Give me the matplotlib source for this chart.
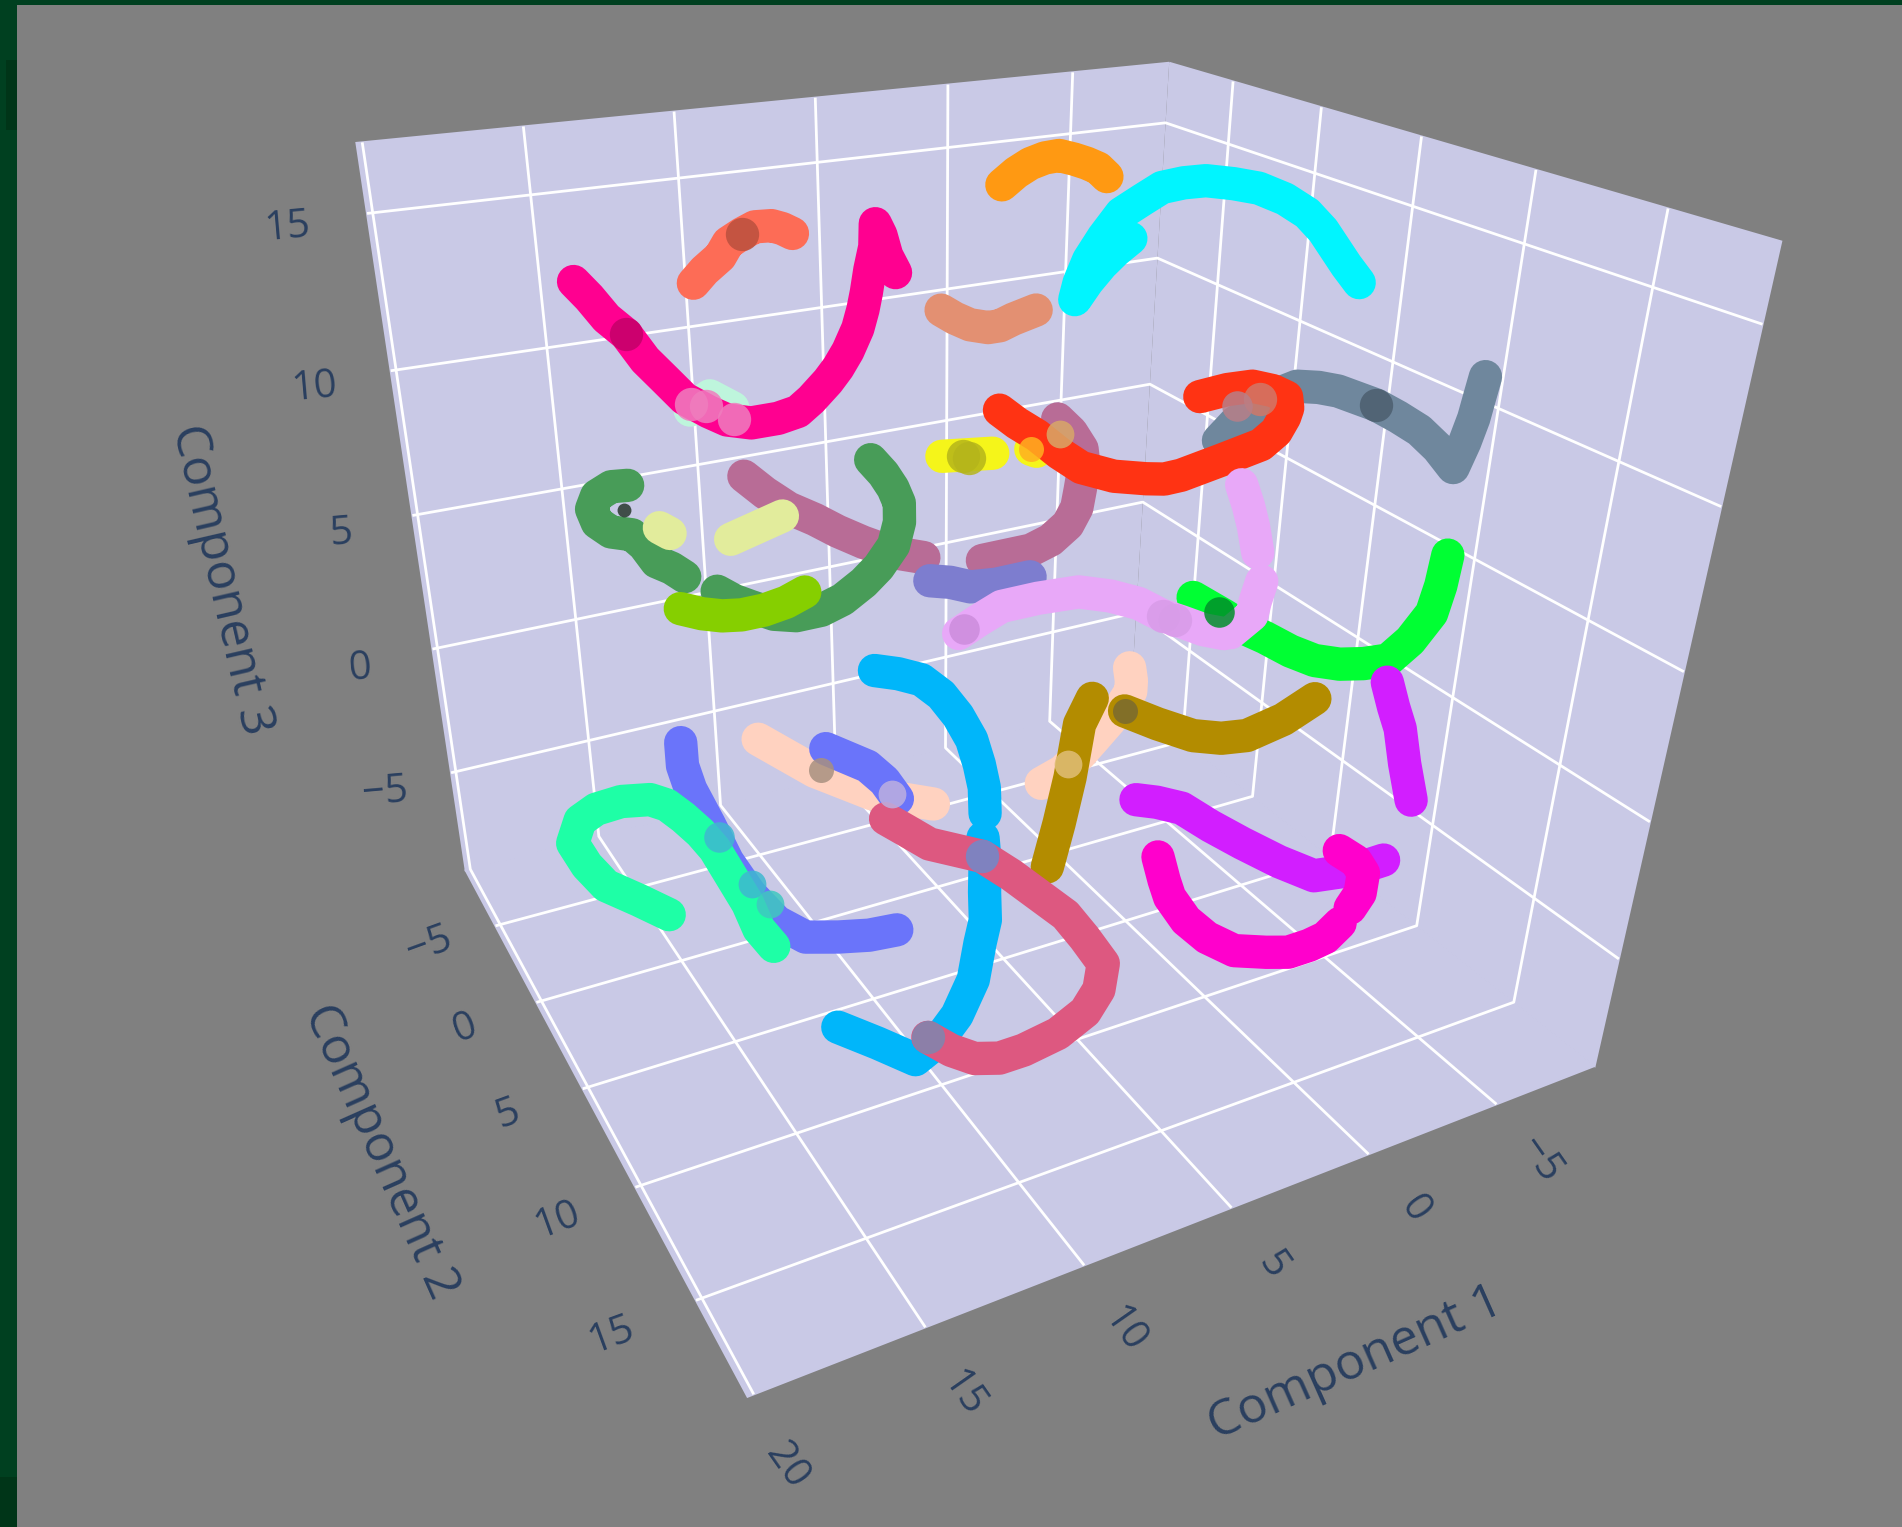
import numpy as np
import matplotlib
matplotlib.use('Agg')
import matplotlib.pyplot as plt
from matplotlib.patches import Rectangle
from mpl_toolkits.mplot3d import proj3d

# ---------- data: (Component 1, Component 2, Component 3) ----------
TOMATO = [(13.1,0.4,14.3),(12.6,-0.0,14.5),(11.9,-0.5,14.7),(11.4,-1.1,14.9),(10.8,-1.5,15.0),(10.3,-1.7,15.1),(9.8,-1.6,15.1),(9.5,-1.5,15.0),(9.3,-1.2,14.9)]
DEEP_PINK = [(16.4,-0.3,14.6),(16.2,0.4,14.3),(16.0,1.2,13.9),(15.7,1.9,13.6),(15.5,2.8,13.1),(15.2,3.5,12.7),(14.9,4.1,12.3),(14.4,4.6,12.0),(14.0,4.9,11.8),
             (13.3,4.9,11.6),(12.5,4.9,11.6),(11.9,4.9,11.7),(11.4,4.7,11.9),(10.7,4.3,12.2),(10.2,3.9,12.4),(9.7,3.5,12.7),(9.1,2.9,13.1),(8.6,2.2,13.4),
             (8.2,1.6,13.7),(7.7,0.8,14.1),(7.1,-0.1,14.5),(6.6,-1.1,14.9),(6.7,-0.5,14.7),(6.9,0.3,14.3),(7.0,1.1,14.0)]
MINT = [(14.9,4.5,12.1),(14.2,4.2,12.3),(13.7,4.6,12.0)]
ORANGE = [(1.6,-2.2,15.3),(0.8,-2.7,15.5),(0.0,-3.2,15.6),(-0.6,-3.3,15.7),(-1.2,-3.4,15.7),(-1.6,-3.1,15.6),(-1.9,-2.8,15.5),(-2.1,-2.4,15.4),(-2.2,-2.0,15.2)]
CYAN_A = [(1.9,3.0,13.0),(1.4,2.4,13.3),(0.6,1.6,13.7),(-0.4,0.8,14.1),(-1.6,-0.1,14.5),(-2.7,-0.6,14.7),(-3.7,-1.0,14.9),(-4.2,-0.5,15.1),(-4.5,0.3,15.3),
          (-4.8,1.4,15.4),(-4.9,2.6,15.5),(-4.8,4.1,15.5),(-4.6,5.5,15.4),(-4.3,6.7,15.2),(-3.9,7.8,15.0),(-3.5,8.9,14.8),(-3.2,9.9,14.6)]
CYAN_B = [(1.8,2.9,13.0),(1.1,2.4,13.3),(0.3,1.9,13.6),(-0.5,1.4,13.8),(-1.3,1.0,14.0)]
SALMON = [(6.3,2.7,13.2),(6.0,3.0,13.0),(5.6,3.2,12.8),(5.1,3.4,12.7),(4.7,3.4,12.7),(4.2,3.3,12.8),(3.3,3.1,12.9)]
SLATE = [(-0.7,7.3,9.5),(-0.9,7.8,10.2),(-1.2,8.3,10.7),(-1.4,8.9,11.3),(-1.7,9.5,11.7),(-2.0,10.1,11.8),(-2.3,10.6,11.8),(-2.6,11.1,11.7),(-2.9,11.6,11.6),
         (-3.2,12.2,11.4),(-3.6,12.7,11.1),(-3.9,13.2,10.7),(-4.2,13.6,10.2),(-4.3,13.8,11.0),(-4.4,13.9,11.7),(-4.5,13.9,12.3),(-4.5,14.0,12.9)]
YELLOW_A = [(7.4,4.9,9.6),(5.7,4.9,9.4)]
YELLOW_B = [(4.4,4.9,9.3),(4.2,4.9,9.2)]
MAUVE_A = [(13.6,4.9,10.1),(13.0,4.9,9.5),(12.3,4.9,8.9),(11.5,4.9,8.4),(10.8,4.9,7.9),(10.0,4.9,7.4),(9.1,4.9,6.9),(8.0,4.9,6.5)]
MAUVE_B = [(6.0,4.9,6.0),(5.2,4.9,6.0),(4.3,4.9,6.0),(3.6,4.9,6.2),(3.0,4.9,6.6),(2.7,4.9,7.1),(2.6,4.9,7.7),(2.5,4.9,8.4),(2.6,4.9,9.0),(3.0,4.9,9.6),(3.5,4.9,10.1)]
RED = [(5.5,4.9,10.7),(4.9,4.9,10.2),(4.2,4.9,9.7),(3.4,4.9,9.0),(2.6,4.9,8.4),(1.4,4.9,7.9),(0.2,4.9,7.6),(-0.0,5.6,7.8),(-0.2,6.2,8.1),
       (-0.8,7.4,8.9),(-1.3,8.6,9.7),(-1.5,9.0,10.2),(-1.6,9.2,10.7),(-1.6,9.3,11.0),(-1.6,9.2,11.3),(-1.4,8.8,11.4),(-1.1,8.2,11.4),(-0.8,7.4,11.1),(-0.4,6.6,10.7)]
SEA_A = [(9.7,4.9,9.9),(9.3,4.9,9.4),(9.0,4.9,8.9),(8.8,4.9,8.4),(8.8,4.9,7.8),(9.0,4.9,7.1),(9.5,4.9,6.5),(10.0,4.9,6.1),(10.7,4.9,5.7),
         (11.4,4.9,5.5),(12.2,4.9,5.5),(12.9,4.9,5.7),(13.6,4.9,6.1),(14.1,4.9,6.4),(14.6,4.9,6.8)]
SEA_B = [(16.4,3.1,9.7),(16.7,2.5,9.5),(17.0,2.0,9.1),(17.1,1.7,8.6),(17.0,1.8,8.2),(16.8,2.4,8.1),(16.4,3.1,8.2),(16.2,3.5,8.0),(16.0,3.9,7.6),(15.7,4.3,7.5),(15.5,4.8,7.4)]
PALE_A = [(15.9,4.1,8.7),(15.7,4.4,8.6)]
PALE_B = [(14.1,4.9,8.3),(12.5,4.9,8.7)]
LIME = [(15.6,4.5,6.3),(15.1,4.9,6.2),(14.5,4.9,6.0),(13.9,4.9,5.9),(13.2,4.9,5.9),(12.5,4.9,6.0),(11.9,4.9,6.2)]
PERIWINKLE = [(7.8,4.9,5.7),(7.1,4.9,5.5),(6.4,4.9,5.2),(5.5,4.9,5.1),(4.3,4.9,5.1)]
GREEN = [(-0.5,6.9,4.2),(-1.0,7.9,3.9),(-1.3,8.7,3.7),(-1.6,9.3,3.6),(-2.0,10.1,3.4),(-2.4,10.8,3.3),(-2.8,11.5,3.4),(-3.2,12.1,3.6),(-3.6,12.7,3.9),
         (-3.9,13.2,4.7),(-4.2,13.6,5.7),(-4.3,13.7,6.6),(-4.3,13.8,7.6)]
VIOLET_A = [(6.8,4.9,3.7),(6.1,4.9,4.0),(5.3,4.9,4.3),(4.0,4.9,4.3),(2.5,4.9,4.2),(1.3,4.9,3.8),(0.2,4.9,3.3),(-0.1,5.8,3.2),(-0.4,6.5,3.2),(-0.7,7.3,3.2),(-1.0,8.0,3.3)]
VIOLET_B = [(-1.5,9.0,5.4),(-1.4,8.9,4.7),(-1.4,8.8,4.2),(-1.1,8.2,3.4)]
VIOLET_C = [(-1.1,8.1,8.3),(-1.2,8.4,7.7),(-1.3,8.6,7.1),(-1.4,8.8,6.3)]
PEACH_A = [(0.4,4.9,1.0),(0.3,4.9,0.5),(0.3,4.9,0.1),(0.7,5.0,-0.3),(1.4,5.4,-0.5),(2.3,5.9,-0.7),(3.1,6.4,-0.8),(4.0,6.8,-1.0),(4.9,7.0,-1.1)]
PEACH_B = [(13.6,4.9,1.7),(11.8,4.9,0.1),(10.3,5.9,-0.6),(8.6,6.7,-1.0)]
GOLD_A = [(6.2,9.7,-2.3),(5.1,8.5,-1.7),(3.9,7.1,-1.1),(2.5,5.3,-0.4),(1.8,4.9,0.2)]
GOLD_B = [(0.7,5.2,-0.4),(-0.1,6.0,-0.7),(-0.7,7.2,-0.7),(-1.1,8.2,-0.4),(-1.5,9.0,0.0),(-2.0,10.1,1.0),(-2.5,10.9,2.0)]
SKY_A = [(9.7,4.9,3.1),(8.9,4.9,2.8),(8.1,4.9,2.4),(7.4,4.9,1.7),(6.8,4.9,0.8),(6.3,4.9,-0.2),(6.5,5.8,-0.6),(6.8,6.7,-0.9),(7.2,7.5,-1.3)]
SKY_B = [(7.7,8.3,-1.6),(8.0,9.0,-2.0),(8.5,9.9,-2.4),(8.9,10.7,-2.8),(9.4,11.3,-3.1),(10.1,12.2,-3.6),(11.0,12.9,-4.1),(11.9,13.4,-4.4),(12.7,13.6,-4.6),(13.6,13.0,-4.1),(14.5,12.3,-3.7)]
ROSE = [(10.3,6.8,-1.0),(9.9,7.4,-1.2),(9.4,8.0,-1.5),(8.7,8.4,-1.7),(8.0,8.8,-1.9),(7.4,9.6,-2.3),(6.9,10.4,-2.7),(6.4,11.2,-3.1),(6.2,12.0,-3.5),
        (6.0,12.8,-4.0),(6.5,13.4,-4.4),(7.2,13.8,-4.7),(8.3,14.1,-4.9),(9.5,14.2,-5.0),(10.3,14.2,-5.0),(11.0,14.0,-4.9),(11.6,13.7,-4.6),(12.1,13.2,-4.3)]
BLUE_A = [(15.8,4.2,1.8),(15.8,4.2,1.0),(15.7,4.5,0.3),(15.5,5.4,-0.5),(15.5,6.8,-1.0),(15.3,8.0,-1.5),(14.9,9.0,-2.0),(14.3,9.7,-2.3),(13.4,10.0,-2.4),(12.5,10.2,-2.5),(11.6,10.2,-2.6)]
BLUE_B = [(11.4,4.9,0.8),(10.7,4.9,0.3),(10.0,4.9,-0.2),(9.7,5.5,-0.5),(9.6,6.2,-0.8)]
SPRING = [(17.3,6.4,-2.6),(17.6,4.4,-3.2),(18.0,2.3,-3.8),(18.1,0.6,-4.0),(18.1,-0.9,-4.0),(17.9,-0.4,-2.9),(17.6,0.6,-2.0),(17.1,1.8,-1.2),(16.5,2.9,-0.7),
          (16.2,3.6,-0.6),(15.9,4.2,-0.8),(15.8,5.4,-0.7),(15.7,6.3,-0.8),(15.6,7.3,-1.2),(15.5,8.3,-1.6),(15.5,9.1,-2.0),(15.3,9.7,-2.3)]
PURPLE_A = [(2.2,8.4,-1.7),(1.6,8.7,-1.8),(0.9,9.1,-2.0),(0.3,9.9,-2.4),(-0.4,10.7,-2.8),(-1.3,11.5,-3.3),(-2.2,12.2,-3.7),(-3.5,12.5,-3.7),(-4.0,13.3,-3.0)]
PURPLE_B = [(-3.6,12.8,3.2),(-3.8,13.0,2.4),(-4.0,13.2,1.7),(-4.1,13.5,0.6),(-4.3,13.8,-0.6)]
MAGENTA_A = [(2.6,10.4,-2.6),(2.8,11.1,-3.0),(2.9,11.6,-3.3),(2.8,12.4,-3.7),(2.4,13.0,-4.1),(1.7,13.5,-4.5),(0.7,13.8,-4.7),(-0.0,14.0,-4.8),(-0.8,14.0,-4.8),(-1.5,13.9,-4.8),(-2.2,13.7,-4.6)]
MAGENTA_B = [(-2.8,13.4,-4.4),(-3.4,13.1,-4.2),(-3.7,12.8,-3.7),(-3.5,12.6,-3.3),(-3.2,12.1,-3.1)]

# where clusters of one trajectory overlap and show through
OVERLAPS = [
    ((10.8,-1.5,15.0), '#BA503E', 24), ((15.7,1.9,13.6), '#C30069', 24),
    ((14.8,4.3,12.2), '#EF7DBE', 24), ((14.4,4.4,12.1), '#EF7DBE', 24), ((13.8,4.9,11.8), '#EF7DBE', 24),
    ((6.7,4.9,9.5), '#B5B51A', 24), ((6.5,4.9,9.4), '#B5B51A', 24),
    ((-2.9,11.6,11.6), '#4C5E6E', 24), ((16.5,2.9,8.9), '#28382E', 10),
    ((-0.9,7.8,4.0), '#008F2A', 22), ((6.6,4.9,3.8), '#CC8CDC', 22),
    ((-0.1,5.9,3.2), '#D89CE8', 24), ((-0.3,6.3,3.2), '#D89CE8', 24),
    ((11.6,4.9,0.1), '#A89080', 18), ((0.7,5.2,-0.4), '#7A6A30', 18),
    ((15.4,5.9,-0.7), '#3FB8D0', 22), ((15.1,7.7,-1.4), '#3FB8D0', 20), ((14.9,8.5,-1.7), '#3FC8C0', 20),
    ((9.7,6.0,-0.7), '#BDB0E0', 20), ((3.7,6.6,-0.9), '#E0BE78', 20),
    ((8.0,8.8,-1.9), '#6F8ACB', 24), ((12.1,13.2,-4.3), '#7E86B0', 24), ((3.4,4.9,9.6), '#D8A868', 20),
    ((-1.2,8.5,11.1), '#D07868', 24), ((-0.9,7.8,10.7), '#B87F88', 22), ((4.4,4.9,9.3), '#FFB020', 18),
]

X_TICKS = [-5, 0, 5, 10, 15, 20]
Y_TICKS = [-5, 0, 5, 10, 15]
Z_TICKS = [-5, 0, 5, 10, 15]

# ---------- styles ----------
SERIES = [
    (TOMATO, '#FD6C56'), (MINT, '#BEF5DC'), (DEEP_PINK, '#FF0090'), (ORANGE, '#FF9912'),
    (CYAN_A, '#00F5FF'), (CYAN_B, '#00F5FF'), (SALMON, '#E39072'),
    (MAUVE_A, '#B86C96'), (MAUVE_B, '#B86C96'), (SLATE, '#6F879D'), (YELLOW_A, '#F5F51A'), (YELLOW_B, '#F5F51A'),
    (RED, '#FF3313'), (SEA_A, '#489C58'), (SEA_B, '#489C58'), (PALE_A, '#E2EC9C'), (PALE_B, '#E2EC9C'),
    (LIME, '#86CF00'), (PERIWINKLE, '#7D7DCF'), (GREEN, '#00FF33'),
    (VIOLET_A, '#E8A8F8'), (VIOLET_B, '#E8A8F8'), (VIOLET_C, '#E8A8F8'),
    (PEACH_A, '#FFD2C0'), (PEACH_B, '#FFD2C0'), (GOLD_A, '#B38C00'), (GOLD_B, '#B38C00'),
    (SKY_A, '#00B6FA'), (SKY_B, '#00B6FA'), (BLUE_A, '#6A74FA'), (BLUE_B, '#6A74FA'), (ROSE, '#DD5880'),
    (SPRING, '#1EFFA6'), (PURPLE_A, '#D21EFF'), (PURPLE_B, '#D21EFF'), (MAGENTA_A, '#FF00CC'), (MAGENTA_B, '#FF00CC'),
]
LINE_W = 24
TXT = '#2a3f5f'
W, H = 1902, 1527

plt.rcParams['font.family'] = ['Open Sans', 'DejaVu Sans']
plt.rcParams['grid.color'] = 'white'
plt.rcParams['grid.linewidth'] = 2.0
plt.rcParams['grid.linestyle'] = '-'

fig = plt.figure(figsize=(W / 100, H / 100), dpi=100, facecolor='#004020')
fig.add_artist(Rectangle((17 / W, 0), 1 - 17 / W, 1 - 5 / H, transform=fig.transFigure,
                         facecolor='#808080', edgecolor='none', zorder=-2))
for (x0, y0, w0, h0) in [(0, 1477, 17, 50), (6, 60, 11, 70)]:
    fig.add_artist(Rectangle((x0 / W, 1 - (y0 + h0) / H), w0 / W, h0 / H,
                             transform=fig.transFigure, facecolor='#003518', edgecolor='none', zorder=-1))

S = 4883.614
TX, TY = 932.653, 759.580
ax = fig.add_axes([(TX - S * 0.095) / W, (H - TY - S * 0.095) / H, S * 0.185 / W, S * 0.185 / H],
                  projection='3d', computed_zorder=False)
ax.set_facecolor((0, 0, 0, 0))
ax.view_init(elev=30.169, azim=62.915, roll=0.020)
ax.set_proj_type('persp', focal_length=float(np.exp(-0.957)))
ax.set_xlim(-9.079, 20.173, view_margin=0)
ax.set_ylim(-9.025, 18.746, view_margin=0)
ax.set_zlim(-9.227, 17.108, view_margin=0)
ax.set_box_aspect((np.exp(0.104), np.exp(0.050), 1))
# the camera looks at a point off the centre of the box
SHIFT = np.eye(4)
SHIFT[:3, 3] = (12.481, 28.648, 23.180)
_base_proj = ax.get_proj
ax.get_proj = lambda: _base_proj() @ SHIFT

ax.set_xticks(X_TICKS); ax.set_yticks(Y_TICKS); ax.set_zticks(Z_TICKS)
ax.set_xticklabels([]); ax.set_yticklabels([]); ax.set_zticklabels([])
for axis in (ax.xaxis, ax.yaxis, ax.zaxis):
    axis.set_pane_color('#C9C9E6')
    axis.pane.set_linewidth(1.5)
    axis.line.set_color((0, 0, 0, 0))
    axis._axinfo['tick']['inward_factor'] = 0
    axis._axinfo['tick']['outward_factor'] = 0
    axis.set_tick_params(color=(0, 0, 0, 0))

for z, (pts, col) in enumerate(SERIES):
    a = np.array(pts).T
    ax.plot(a[0], a[1], a[2], color=col, lw=LINE_W, solid_capstyle='round',
            solid_joinstyle='round', clip_on=False, zorder=10 + z)
for z, (pt, col, ms) in enumerate(OVERLAPS):
    ax.plot([pt[0]], [pt[1]], [pt[2]], 'o', color=col, ms=ms, mew=0, alpha=0.85,
            clip_on=False, zorder=100 + z)

M = ax.get_proj()
def label(txt, xyz, off, rot, size):
    xp, yp, _ = proj3d.proj_transform(*xyz, M)
    ax.annotate(txt, xy=(xp, yp), xycoords='data', xytext=(off[0], -off[1]), textcoords='offset pixels',
                ha='center', va='center', rotation=rot, rotation_mode='anchor', fontsize=size,
                color=TXT, annotation_clip=False)

def tl(v):
    return str(v).replace('-', '\u2212')

X_OFF = [(43, 56), (46, 55), (41, 58), (40, 65), (38, 67), (33, 72)]
Y_OFF = [(-66, 20), (-71, 26), (-75, 26), (-78, 33), (-84, 35)]
Z_OFF = [(-66, 20), (-72, 20), (-71, 18), (-76, 17), (-80, 14)]
for v, o in zip(X_TICKS, X_OFF):
    label(tl(v), (v, 18.746, -9.227), o, -55, 29)
for v, o in zip(Y_TICKS, Y_OFF):
    label(tl(v), (20.173, v, -9.227), o, 20, 29)
for v, o in zip(Z_TICKS, Z_OFF):
    label(tl(v), (20.173, -9.025, v), o, 5, 29)
label('Component 1', (7.5, 18.746, -9.227), (197, 128), 24, 36)
label('Component 2', (20.173, 5, -9.227), (-203, 63), -66, 36)
label('Component 3', (20.173, -9.025, 5), (-192, 64), -77, 36)

fig.savefig('out.png', dpi=100, facecolor=fig.get_facecolor())
